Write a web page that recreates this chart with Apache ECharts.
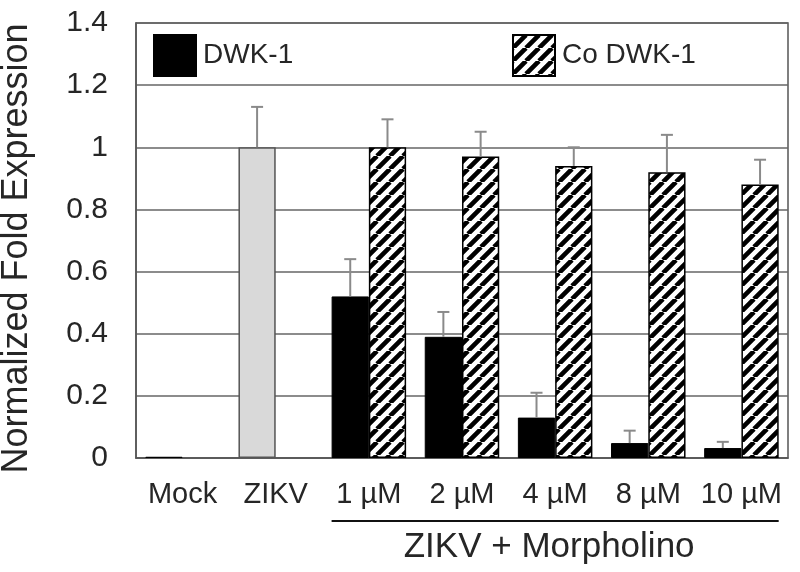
<!DOCTYPE html>
<html>
<head>
<meta charset="utf-8">
<script src="https://cdn.jsdelivr.net/npm/echarts@6/dist/echarts.min.js"></script>
<style>html,body{margin:0;padding:0;background:#fff;}#c{width:800px;height:572px;}</style>
</head>
<body>
<div id="c"></div>
<script>
// ---- data ----
const categories = ['Mock', 'ZIKV', '1 µM', '2 µM', '4 µM', '8 µM', '10 µM'];
const seriesNames = ['DWK-1', 'Co DWK-1'];
const dwk1 = [0.004, 1.0, 0.52, 0.39, 0.13, 0.048, 0.032];
const dwk1Err = [0, 0.13, 0.12, 0.08, 0.08, 0.04, 0.02];
const coDwk1 = [null, null, 1.0, 0.97, 0.94, 0.92, 0.88];
const coDwk1Err = [null, null, 0.09, 0.08, 0.06, 0.12, 0.08];
const yMin = 0, yMax = 1.4, yStep = 0.2;
const groupLabel = 'ZIKV + Morpholino';
const groupFirst = 2, groupLast = 6;
const yTitle = 'Normalized Fold Expression';

const FONT = 'Liberation Sans, Arial, sans-serif';
const TXT = '#262626';

// hatch pattern
function makeHatch() {
  const p = 13;
  const cv = document.createElement('canvas');
  cv.width = p; cv.height = p;
  const ctx = cv.getContext('2d');
  ctx.fillStyle = '#fff';
  ctx.fillRect(0, 0, p, p);
  ctx.strokeStyle = '#000';
  ctx.lineWidth = 4.6;
  ctx.beginPath();
  for (const k of [-p, 0, p]) {
    ctx.moveTo(k, p);
    ctx.lineTo(k + p, 0);
  }
  ctx.stroke();
  return cv;
}
const hatch = { image: makeHatch(), repeat: 'repeat' };

const chart = echarts.init(document.getElementById('c'));

function errSeries(vals, errs, off) {
  return {
    type: 'custom',
    z: 5,
    silent: true,
    data: vals.map((v, i) => [i, v, errs[i]]).filter(d => d[1] != null && d[2]),
    encode: { x: 0, y: 1 },
    renderItem: function (params, api) {
      const i = api.value(0), v = api.value(1), e = api.value(2);
      const base = api.coord([i, v]);
      const top = api.coord([i, v + e]);
      const band = api.size([1, 0])[0];
      const x = base[0] + off * band;
      const st = { stroke: '#8a8a8a', lineWidth: 2 };
      return {
        type: 'group',
        children: [
          { type: 'line', shape: { x1: x, y1: base[1], x2: x, y2: top[1] }, style: st },
          { type: 'line', shape: { x1: x - 6, y1: top[1], x2: x + 6, y2: top[1] }, style: st }
        ]
      };
    }
  };
}

const option = {
  animation: false,
  backgroundColor: '#fff',
  textStyle: { fontFamily: FONT },
  grid: { left: 136, right: 12, top: 23, bottom: 114, containLabel: false, outerBoundsMode: 'none',
          show: true, borderColor: '#555', borderWidth: 1.5, backgroundColor: 'transparent' },
  legend: [
    { data: [seriesNames[0]], left: 148, top: 29, icon: 'rect', itemWidth: 42, itemHeight: 41,
      textStyle: { fontSize: 28, color: TXT, fontFamily: FONT, padding: [0, 0, 0, 2] } },
    { data: [seriesNames[1]], left: 507, top: 29, icon: 'rect', itemWidth: 42, itemHeight: 41,
      textStyle: { fontSize: 28, color: TXT, fontFamily: FONT, padding: [0, 0, 0, 2] } }
  ],
  xAxis: {
    type: 'category',
    data: categories,
    axisLine: { show: true, lineStyle: { color: '#555', width: 1.5 } },
    axisTick: { show: false },
    axisLabel: { interval: 0, fontSize: 29, color: TXT, margin: 22, fontFamily: FONT },
    splitLine: { show: false }
  },
  yAxis: {
    type: 'value',
    min: yMin, max: yMax, interval: yStep,
    name: yTitle,
    nameLocation: 'middle',
    nameGap: 101,
    nameTextStyle: { fontSize: 36, color: TXT, fontFamily: FONT, padding: [0, 16, 0, 0] },
    axisLine: { show: true, lineStyle: { color: '#555', width: 1.5 } },
    axisTick: { show: false },
    axisLabel: { fontSize: 30, color: TXT, margin: 28, fontFamily: FONT },
    splitLine: { show: true, lineStyle: { color: '#666', width: 1.5 } }
  },
  series: [
    {
      name: seriesNames[0], type: 'bar', barGap: '0%', barCategoryGap: '20%',
      itemStyle: { color: '#000', borderColor: '#000', borderWidth: 1 },
      data: dwk1.map((v, i) => i === 1
        ? { value: v, itemStyle: { color: '#d9d9d9', borderColor: '#555', borderWidth: 1.5 } }
        : v)
    },
    {
      name: seriesNames[1], type: 'bar', barGap: '0%', barCategoryGap: '20%',
      itemStyle: { color: hatch, borderColor: '#000', borderWidth: 1.5 },
      data: coDwk1
    },
    errSeries(dwk1, dwk1Err, -0.2),
    errSeries(coDwk1, coDwk1Err, 0.2)
  ]
};
chart.setOption(option);

// group underline + label, aligned to the category scale
const band = chart.convertToPixel({ xAxisIndex: 0 }, 1) - chart.convertToPixel({ xAxisIndex: 0 }, 0);
const xStart = chart.convertToPixel({ xAxisIndex: 0 }, groupFirst) - band * 0.4;
const xEnd = chart.convertToPixel({ xAxisIndex: 0 }, groupLast) + band * 0.4;
chart.setOption({
  graphic: [
    { type: 'line', shape: { x1: xStart, y1: 521, x2: xEnd, y2: 521 }, style: { stroke: '#111', lineWidth: 2 } },
    { type: 'text', x: (xStart + xEnd) / 2 - 6, y: 547,
      style: { text: groupLabel, fontSize: 35, fill: TXT, fontFamily: FONT, align: 'center', verticalAlign: 'middle' } }
  ]
});
</script>
</body>
</html>
